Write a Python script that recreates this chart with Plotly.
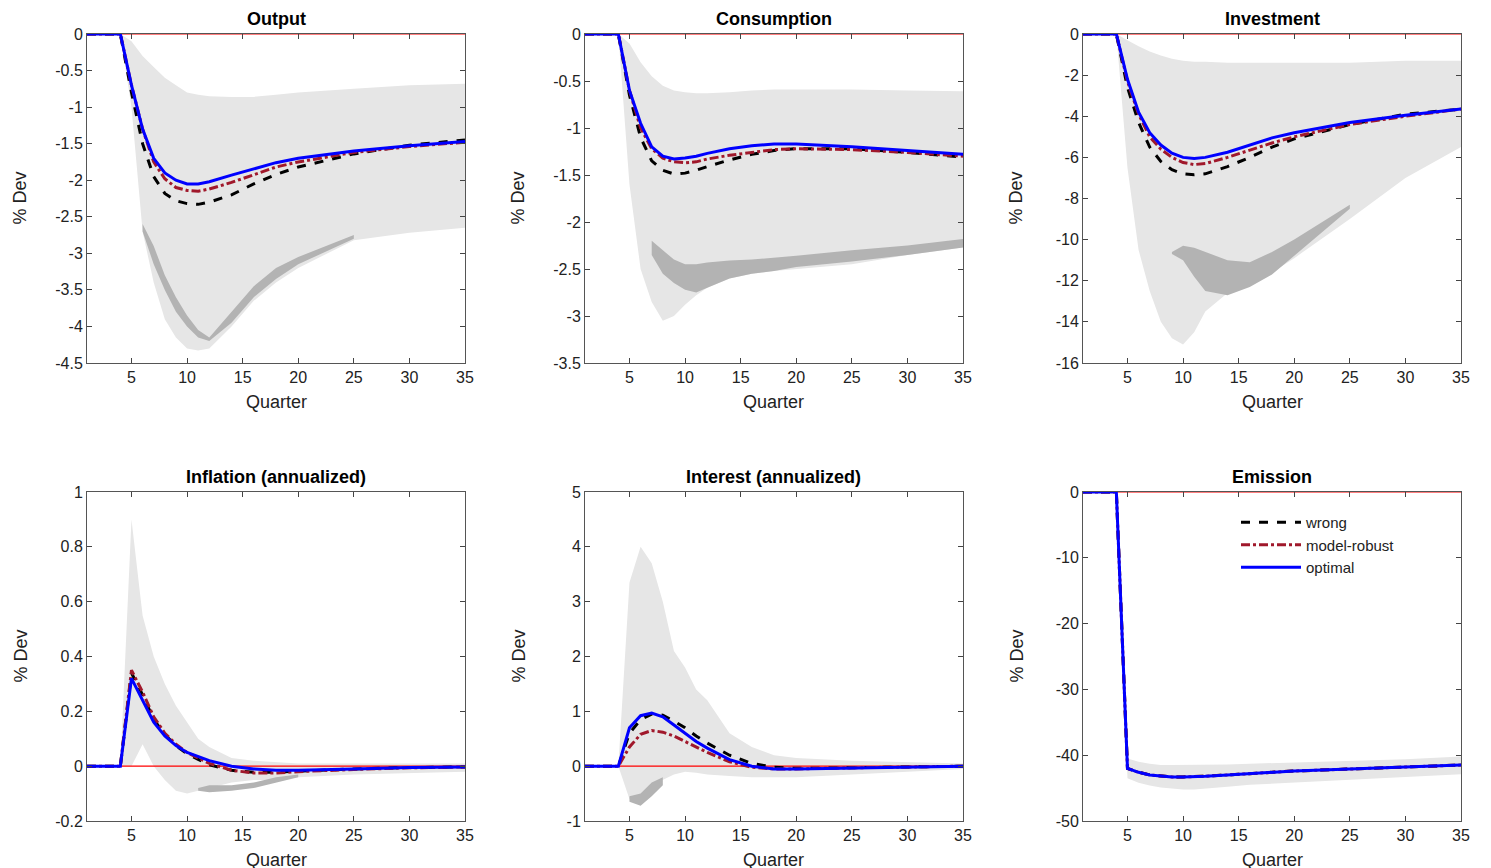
import plotly.graph_objects as go
from plotly.subplots import make_subplots

# Quarter grid shared by all panels
quarters = [1, 4, 5, 6, 7, 8, 9, 10, 11, 12, 14, 16, 18, 20, 25, 30, 35]

titles = ["Output", "Consumption", "Investment",
          "Inflation (annualized)", "Interest (annualized)", "Emission"]

# --- Output
out_opt = [0, 0, -0.7, -1.3, -1.7, -1.9, -2.0, -2.05, -2.05, -2.02, -1.93, -1.84, -1.76, -1.7, -1.6, -1.53, -1.47]
out_rob = [0, 0, -0.7, -1.3, -1.75, -1.98, -2.1, -2.14, -2.15, -2.12, -2.03, -1.92, -1.82, -1.75, -1.62, -1.54, -1.48]
out_wrong = [0, 0, -0.8, -1.5, -1.95, -2.18, -2.28, -2.32, -2.33, -2.3, -2.2, -2.05, -1.92, -1.82, -1.64, -1.52, -1.45]
out_hi = [0, 0, -0.1, -0.3, -0.45, -0.6, -0.7, -0.8, -0.83, -0.85, -0.86, -0.86, -0.83, -0.8, -0.75, -0.7, -0.68]
out_lo = [0, 0, -1.0, -2.7, -3.4, -3.9, -4.15, -4.3, -4.33, -4.3, -4.0, -3.65, -3.4, -3.2, -2.82, -2.72, -2.65]
out_dk_q = [6, 7, 8, 9, 10, 11, 12, 14, 16, 18, 20, 25]
out_dk_hi = [-2.6, -2.9, -3.3, -3.6, -3.85, -4.05, -4.15, -3.8, -3.45, -3.2, -3.05, -2.75]
out_dk_lo = [-2.7, -3.15, -3.5, -3.8, -4.0, -4.15, -4.2, -3.95, -3.6, -3.35, -3.15, -2.8]

# --- Consumption
con_opt = [0, 0, -0.6, -0.95, -1.2, -1.3, -1.33, -1.32, -1.3, -1.27, -1.22, -1.19, -1.17, -1.17, -1.2, -1.24, -1.28]
con_rob = [0, 0, -0.6, -1.0, -1.22, -1.32, -1.36, -1.37, -1.36, -1.33, -1.29, -1.26, -1.23, -1.22, -1.23, -1.26, -1.3]
con_wrong = [0, 0, -0.65, -1.1, -1.35, -1.45, -1.49, -1.48, -1.45, -1.41, -1.34, -1.28, -1.24, -1.22, -1.22, -1.26, -1.31]
con_hi = [0, 0, -0.1, -0.3, -0.45, -0.55, -0.6, -0.62, -0.63, -0.63, -0.62, -0.6, -0.59, -0.59, -0.59, -0.6, -0.61]
con_lo = [0, 0, -1.6, -2.5, -2.85, -3.05, -3.0, -2.88, -2.78, -2.7, -2.6, -2.55, -2.52, -2.5, -2.45, -2.35, -2.27]
con_dk_q = [7, 8, 9, 10, 11, 12, 14, 16, 18, 20, 25, 30, 35]
con_dk_hi = [-2.2, -2.3, -2.4, -2.45, -2.45, -2.43, -2.41, -2.4, -2.38, -2.36, -2.3, -2.25, -2.18]
con_dk_lo = [-2.35, -2.55, -2.65, -2.72, -2.75, -2.7, -2.6, -2.55, -2.52, -2.48, -2.42, -2.35, -2.27]

# --- Investment
inv_opt = [0, 0, -2.2, -3.8, -4.8, -5.4, -5.8, -6.0, -6.05, -6.0, -5.75, -5.4, -5.05, -4.8, -4.3, -3.95, -3.65]
inv_rob = [0, 0, -2.3, -3.9, -5.0, -5.6, -6.0, -6.25, -6.35, -6.3, -6.0, -5.65, -5.3, -5.0, -4.4, -4.0, -3.65]
inv_wrong = [0, 0, -2.6, -4.3, -5.5, -6.2, -6.6, -6.8, -6.85, -6.8, -6.45, -6.0, -5.5, -5.1, -4.4, -3.9, -3.65]
inv_hi = [0, 0, -0.3, -0.6, -0.85, -1.05, -1.2, -1.3, -1.35, -1.35, -1.4, -1.4, -1.4, -1.4, -1.4, -1.3, -1.3]
inv_lo = [0, 0, -6.5, -10.5, -12.5, -14.0, -14.8, -15.1, -14.5, -13.5, -12.6, -12.2, -11.6, -10.9, -9.0, -7.0, -5.5]
inv_dk_q = [9, 10, 11, 12, 14, 16, 18, 20, 25]
inv_dk_hi = [-10.6, -10.3, -10.4, -10.6, -11.0, -11.1, -10.6, -10.0, -8.3]
inv_dk_lo = [-10.7, -11.0, -11.8, -12.5, -12.7, -12.3, -11.7, -10.8, -8.5]

# --- Inflation
inf_opt = [0, 0, 0.32, 0.24, 0.16, 0.11, 0.075, 0.05, 0.035, 0.02, 0.0, -0.01, -0.015, -0.015, -0.01, -0.005, -0.003]
inf_rob = [0, 0, 0.35, 0.27, 0.18, 0.12, 0.08, 0.05, 0.03, 0.01, -0.015, -0.025, -0.025, -0.02, -0.012, -0.006, -0.003]
inf_wrong = [0, 0, 0.34, 0.26, 0.17, 0.115, 0.075, 0.045, 0.025, 0.005, -0.015, -0.022, -0.022, -0.018, -0.01, -0.005, -0.003]
inf_hi = [0, 0, 0.9, 0.55, 0.4, 0.3, 0.22, 0.16, 0.1, 0.07, 0.03, 0.02, 0.015, 0.01, 0.01, 0.01, 0.01]
inf_lo = [0, 0, 0.0, 0.08, 0.0, -0.05, -0.09, -0.1, -0.09, -0.08, -0.06, -0.05, -0.05, -0.04, -0.03, -0.025, -0.02]
inf_dk_q = [11, 12, 14, 16, 18, 20]
inf_dk_hi = [-0.08, -0.07, -0.07, -0.06, -0.04, -0.03]
inf_dk_lo = [-0.09, -0.095, -0.09, -0.08, -0.06, -0.04]

# --- Interest
int_opt = [0, 0, 0.7, 0.92, 0.97, 0.9, 0.75, 0.6, 0.45, 0.33, 0.12, 0.0, -0.05, -0.05, -0.03, -0.01, 0]
int_rob = [0, 0, 0.35, 0.58, 0.65, 0.62, 0.55, 0.45, 0.35, 0.25, 0.08, -0.02, -0.05, -0.05, -0.03, -0.01, 0]
int_wrong = [0, 0, 0.6, 0.85, 0.95, 0.93, 0.82, 0.7, 0.55, 0.42, 0.2, 0.05, -0.02, -0.04, -0.03, -0.01, 0]
int_hi = [0, 0, 3.35, 4.0, 3.7, 3.0, 2.1, 1.8, 1.4, 1.2, 0.6, 0.35, 0.2, 0.15, 0.1, 0.07, 0.05]
int_lo = [0, 0, -0.6, -0.65, -0.35, -0.25, -0.15, -0.1, -0.12, -0.15, -0.18, -0.2, -0.2, -0.2, -0.15, -0.1, -0.05]
int_dk_q = [5, 6, 7, 8]
int_dk_hi = [-0.55, -0.5, -0.3, -0.2]
int_dk_lo = [-0.65, -0.72, -0.55, -0.35]

# --- Emission
emi_opt = [0, 0, -42, -42.6, -43, -43.2, -43.3, -43.3, -43.3, -43.2, -43, -42.8, -42.6, -42.4, -42.1, -41.8, -41.5]
emi_rob = emi_opt
emi_wrong = emi_opt
emi_hi = [0, 0, -40.5, -41, -41.3, -41.5, -41.5, -41.5, -41.5, -41.5, -41.4, -41.3, -41.2, -41.1, -40.9, -40.6, -40.2]
emi_lo = [0, 0, -43.5, -44.2, -44.6, -44.9, -45.1, -45.2, -45.2, -45.1, -44.8, -44.5, -44.3, -44.1, -43.7, -43.3, -42.9]

# y tick labels per panel
yticks = [
    ["0", "-0.5", "-1", "-1.5", "-2", "-2.5", "-3", "-3.5", "-4", "-4.5"],
    ["0", "-0.5", "-1", "-1.5", "-2", "-2.5", "-3", "-3.5"],
    ["0", "-2", "-4", "-6", "-8", "-10", "-12", "-14", "-16"],
    ["1", "0.8", "0.6", "0.4", "0.2", "0", "-0.2"],
    ["5", "4", "3", "2", "1", "0", "-1"],
    ["0", "-10", "-20", "-30", "-40", "-50"],
]
yranges = [[-4.5, 0], [-3.5, 0], [-16, 0], [-0.2, 1], [-1, 5], [-50, 0]]
xticks = [5, 10, 15, 20, 25, 30, 35]

panels = [
    (out_opt, out_rob, out_wrong, out_hi, out_lo, out_dk_q, out_dk_hi, out_dk_lo),
    (con_opt, con_rob, con_wrong, con_hi, con_lo, con_dk_q, con_dk_hi, con_dk_lo),
    (inv_opt, inv_rob, inv_wrong, inv_hi, inv_lo, inv_dk_q, inv_dk_hi, inv_dk_lo),
    (inf_opt, inf_rob, inf_wrong, inf_hi, inf_lo, inf_dk_q, inf_dk_hi, inf_dk_lo),
    (int_opt, int_rob, int_wrong, int_hi, int_lo, int_dk_q, int_dk_hi, int_dk_lo),
    (emi_opt, emi_rob, emi_wrong, emi_hi, emi_lo, [], [], []),
]

W, H = 1491, 868
OFF = 7  # page body margin
xdoms = [(86 - OFF, 464 - OFF), (584 - OFF, 962 - OFF), (1082 - OFF, 1460 - OFF)]
ydoms = [(33 - OFF, 362 - OFF), (491 - OFF, 820 - OFF)]
FONT = "Liberation Sans, Arial, sans-serif"

fig = make_subplots(rows=2, cols=3)

for i, (opt, rob, wrong, hi, lo, dq, dhi, dlo) in enumerate(panels):
    r, c = i // 3 + 1, i % 3 + 1
    # light band
    fig.add_trace(go.Scatter(x=quarters + quarters[::-1], y=hi + lo[::-1], fill="toself",
                             fillcolor="#e6e6e6", line=dict(width=0), mode="lines",
                             showlegend=False, hoverinfo="skip"), row=r, col=c)
    if dq:
        fig.add_trace(go.Scatter(x=dq + dq[::-1], y=dhi + dlo[::-1], fill="toself",
                                 fillcolor="#b3b3b3", line=dict(width=0), mode="lines",
                                 showlegend=False, hoverinfo="skip"), row=r, col=c)
    # red zero line
    fig.add_trace(go.Scatter(x=[1, 35], y=[0, 0], mode="lines", line=dict(color="red", width=1.2),
                             showlegend=False, hoverinfo="skip"), row=r, col=c)
    leg = i == 5
    fig.add_trace(go.Scatter(x=quarters, y=wrong, mode="lines", name="wrong",
                             line=dict(color="black", width=3, dash="dash"), showlegend=leg), row=r, col=c)
    fig.add_trace(go.Scatter(x=quarters, y=rob, mode="lines", name="model-robust",
                             line=dict(color="#a0182b", width=3, dash="dashdot"), showlegend=leg), row=r, col=c)
    fig.add_trace(go.Scatter(x=quarters, y=opt, mode="lines", name="optimal",
                             line=dict(color="#0000ff", width=3), showlegend=leg), row=r, col=c)

    lo_y, hi_y = yranges[i]
    labels = yticks[i]
    vals = [float(t) for t in labels]
    x0, x1 = xdoms[c - 1]
    y0, y1 = ydoms[r - 1]
    xa = dict(domain=[x0 / W, x1 / W], range=[1, 35], automargin=False,
              tickvals=xticks, ticks="inside", ticklen=5, mirror="ticks", showline=True,
              linecolor="#555", linewidth=1, showgrid=False, zeroline=False,
              tickfont=dict(size=16, family=FONT, color="#222"))
    ya = dict(domain=[1 - y1 / H, 1 - y0 / H], range=[lo_y, hi_y], automargin=False,
              tickvals=vals, ticktext=labels, ticks="inside", ticklen=5, mirror="ticks", showline=True,
              linecolor="#555", linewidth=1, showgrid=False, zeroline=False,
              tickfont=dict(size=16, family=FONT, color="#222"))
    sfx = "" if i == 0 else str(i + 1)
    fig.layout["xaxis" + sfx].update(xa)
    fig.layout["yaxis" + sfx].update(ya)
    # title
    fig.add_annotation(text="<b>" + titles[i] + "</b>", xref="paper", yref="paper",
                       x=(x0 + x1) / 2 / W, xanchor="center",
                       y=1 - y0 / H, yanchor="bottom", yshift=3, showarrow=False,
                       font=dict(size=18, family=FONT, color="black"))
    # x label
    fig.add_annotation(text="Quarter", xref="paper", yref="paper",
                       x=(x0 + x1) / 2 / W, xanchor="center",
                       y=1 - (y1 + 39) / H, yanchor="middle", showarrow=False,
                       font=dict(size=18, family=FONT, color="#222"))
    # y label
    fig.add_annotation(text="% Dev", xref="paper", yref="paper", textangle=-90,
                       x=(x0 - 67) / W, xanchor="center",
                       y=1 - (y0 + y1) / 2 / H, yanchor="middle", showarrow=False,
                       font=dict(size=18, family=FONT, color="#222"))

fig.update_layout(
    width=W, height=H, margin=dict(l=0, r=0, t=0, b=0),
    plot_bgcolor="white", paper_bgcolor="white",
    legend=dict(x=(1235 - OFF) / W, y=1 - (505 - OFF) / H, xanchor="left", yanchor="top",
                bgcolor="rgba(0,0,0,0)", font=dict(size=15, family=FONT, color="#222"),
                itemwidth=60, tracegroupgap=0),
)

fig.write_html("out.html")
